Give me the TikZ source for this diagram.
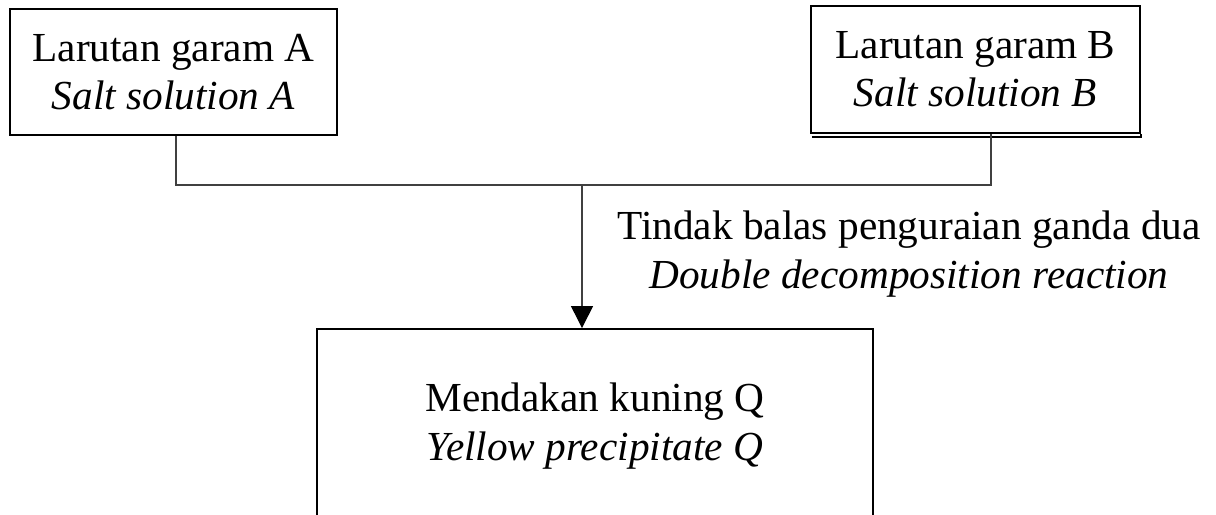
\documentclass[tikz,border=0pt]{standalone}
\usepackage{fontspec}
\setmainfont{Liberation Serif}
\usetikzlibrary{arrows.meta,positioning,calc}

\tikzset{
  saltbox/.style={draw, line width=1.1pt, align=center, inner sep=0pt,
    font=\fontsize{23.5}{27.5}\selectfont},
  flow/.style={line width=0.7pt, draw=black!75},
}

\begin{document}
\begin{tikzpicture}[x=0.02cm, y=-0.02cm, >={Triangle[length=0.44cm,width=0.44cm,color=black]}]
  \clip (0,0) rectangle (1216,514);
  \node[saltbox, minimum width=6.54cm, minimum height=2.52cm] (A) at (173.5,72)
    {Larutan garam A\\ \textit{Salt solution A}};
  \node[saltbox, minimum width=6.58cm, minimum height=2.54cm] (B) at (975.5,69.5)
    {Larutan garam B\\ \textit{Salt solution B}};
  \draw[line width=0.8pt] ([xshift=0.04cm,yshift=-0.06cm]B.south west) -- ([yshift=-0.06cm]B.south east) -- (B.south east);
  \node[saltbox, minimum width=11.12cm, minimum height=3.88cm] (Q) at (595,426)
    {Mendakan kuning Q\\ \textit{Yellow precipitate Q}};
  \coordinate (join) at (582,185);
  \draw[flow] ([xshift=0.05cm]A.south) |- (join) -| ([xshift=0.31cm]B.south);
  \draw[flow,->] (join) -- (join |- Q.north);
  \node[align=center, font=\fontsize{23.5}{27.5}\selectfont] (lbl) at (909,254)
    {Tindak balas penguraian ganda dua\\ \textit{Double decomposition reaction}};
\end{tikzpicture}
\end{document}
